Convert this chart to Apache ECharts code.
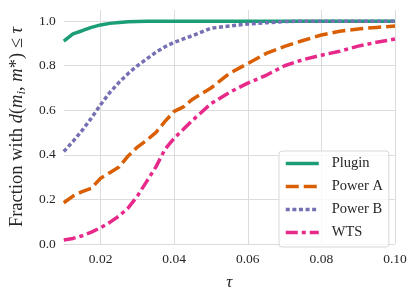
<!DOCTYPE html>
<html>
<head>
<meta charset="utf-8">
<script src="https://cdn.jsdelivr.net/npm/echarts@6/dist/echarts.min.js"></script>
<style>html,body{margin:0;padding:0;background:#fff}#c{width:415px;height:296px}</style>
</head>
<body>
<div id="c"></div>
<script>
const tau = [0.01,0.0125,0.015,0.0175,0.02,0.0225,0.025,0.0275,0.03,0.0325,0.035,0.0375,0.04,0.0425,0.045,0.05,0.055,0.06,0.065,0.07,0.075,0.08,0.085,0.09,0.095,0.10];
const plugin = [0.91,0.943,0.957,0.972,0.983,0.99,0.994,0.997,0.998,0.999,1,1,1,1,1,1,1,1,1,1,1,1,1,1,1,1];
const powerA = [0.185,0.215,0.235,0.25,0.295,0.32,0.345,0.395,0.435,0.465,0.50,0.55,0.595,0.615,0.65,0.70,0.765,0.81,0.855,0.887,0.913,0.938,0.955,0.965,0.972,0.978];
const powerB = [0.415,0.46,0.51,0.565,0.625,0.68,0.725,0.765,0.80,0.83,0.86,0.885,0.905,0.92,0.935,0.968,0.978,0.987,0.993,0.998,1,1,1,1,1,1];
const wts = [0.018,0.025,0.037,0.053,0.073,0.097,0.125,0.162,0.215,0.28,0.345,0.425,0.475,0.515,0.555,0.63,0.68,0.722,0.757,0.80,0.827,0.847,0.865,0.888,0.905,0.92];
const xTicks = [0.02,0.04,0.06,0.08,0.10];
const yTicks = [0,0.2,0.4,0.6,0.8,1.0];
const names = ['Plugin','Power A','Power B','WTS'];

const FONT = '"Liberation Serif", "DejaVu Serif", serif';
const TXT = '#262626';
const GRID = '#dcdcdc';

function pairs(v){ return tau.map((t,i)=>[t, v[i]]); }
function mk(name, data, color, type, width){
  return {name, type:'line', data:pairs(data), showSymbol:false, symbol:'none',
    lineStyle:{color, width, type, cap:'butt'}, itemStyle:{color}, smooth:false, animation:false};
}

const chart = echarts.init(document.getElementById('c'), null, {renderer:'canvas'});
chart.setOption({
  backgroundColor:'#fff',
  animation:false,
  grid:{left:52, right:20, top:10, bottom:46, containLabel:false},
  xAxis:{type:'value', min:0.01, max:0.10,
    axisLine:{show:false}, axisTick:{show:false, customValues:xTicks},
    axisLabel:{customValues:xTicks, color:TXT, fontFamily:FONT, fontSize:13.5, margin:8,
      formatter:v=>v.toFixed(2)},
    splitLine:{show:true, lineStyle:{color:GRID, width:1}},
    name:'τ', nameLocation:'middle', nameGap:30,
    nameTextStyle:{color:TXT, fontFamily:FONT, fontSize:17, fontStyle:'italic'}},
  yAxis:{type:'value', min:0, max:1.05,
    axisLine:{show:false}, axisTick:{show:false, customValues:yTicks},
    axisLabel:{customValues:yTicks, color:TXT, fontFamily:FONT, fontSize:13.5, margin:8,
      formatter:v=>v.toFixed(1)},
    splitLine:{show:true, lineStyle:{color:GRID, width:1}},
    name:'{n|Fraction with }{i|d}{n|(}{i|m}{s|i}{n|, }{i|m}{n|*) ≤ }{i|τ}',
    nameLocation:'middle', nameGap:31, nameRotate:90,
    nameTextStyle:{color:TXT, fontFamily:FONT, fontSize:18.5,
      rich:{n:{fontFamily:FONT, fontSize:18.5, color:TXT},
            i:{fontFamily:FONT, fontSize:18.5, color:TXT, fontStyle:'italic'},
            s:{fontFamily:FONT, fontSize:13, color:TXT, fontStyle:'italic', verticalAlign:'bottom', padding:[8,0,0,0]}}}},
  legend:{show:true, data:names, orient:'vertical', left:279, top:151,
    padding:[5,6,7,5], itemWidth:33, itemHeight:14, itemGap:8,
    itemStyle:{opacity:0}, lineStyle:{width:3.5},
    backgroundColor:'rgba(255,255,255,0.8)', borderColor:'#d8d8d8', borderWidth:1, borderRadius:3,
    textStyle:{color:TXT, fontFamily:FONT, fontSize:14.5, padding:[0,0,0,8]}},
  series:[
    mk('Plugin', plugin, '#1b9e77', 'solid', 3.5),
    mk('Power A', powerA, '#d95f02', [13,5], 3.5),
    mk('Power B', powerB, '#7570b3', [4,2.6], 3.5),
    mk('WTS', wts, '#e7298a', [12,4,4,4], 3.5)
  ]
});
</script>
</body>
</html>
